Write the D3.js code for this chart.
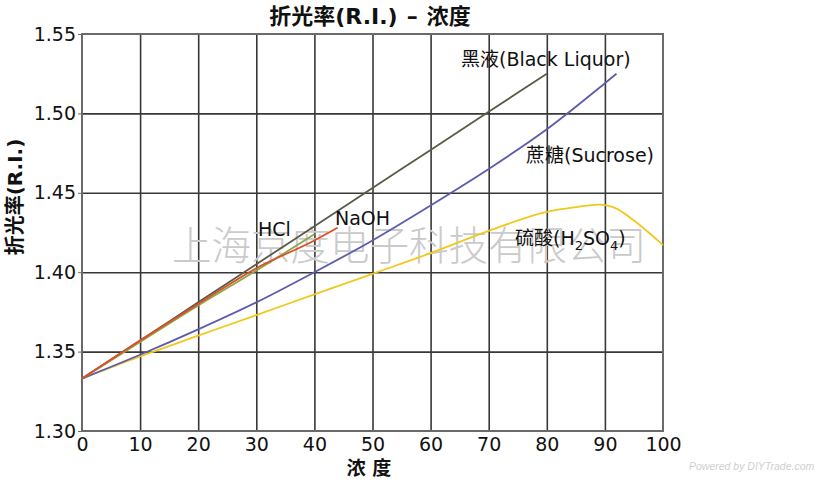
<!DOCTYPE html>
<html>
<head>
<meta charset="utf-8">
<script src="https://cdn.jsdelivr.net/npm/d3@7"></script>
<style>
  body { margin: 0; background: #fff; }
  svg { display: block; }
</style>
</head>
<body>
<div id="chart"></div>
<script>
// datos -------------------------------------------------------
const xTicks = [0, 10, 20, 30, 40, 50, 60, 70, 80, 90, 100];
const yTicks = [1.30, 1.35, 1.40, 1.45, 1.50, 1.55];

const blackLiquor = [[0, 1.333], [10, 1.357], [20, 1.381], [30, 1.405], [40, 1.429], [50, 1.453], [60, 1.477], [70, 1.501], [80, 1.525]];
const sucrose = [[0, 1.333], [10, 1.348], [20, 1.364], [30, 1.381], [40, 1.400], [50, 1.420], [60, 1.442], [70, 1.465], [80, 1.490], [90, 1.519], [92, 1.525]];
const sulfuric = [[0, 1.333], [10, 1.347], [20, 1.360], [30, 1.373], [40, 1.386], [50, 1.399], [60, 1.412], [70, 1.426], [80, 1.438], [85, 1.441], [89, 1.4425], [92, 1.440], [95, 1.4325], [100, 1.417]];
const hcl = [[0, 1.333], [10, 1.356], [20, 1.379], [30, 1.401], [40, 1.424]];
const naoh = [[0, 1.333], [10, 1.357], [20, 1.380], [30, 1.4025], [40, 1.420], [44, 1.428]];

const watermark = "上海京度电子科技有限公司";

// Dimensiones
const W = 819, H = 480;
const mLeft = 82, mRight = 663, mTop = 34, mBottom = 431;

const svg = d3.select("#chart").append("svg")
  .attr("width", W)
  .attr("height", H);

const x = d3.scaleLinear().domain([0, 100]).range([mLeft, mRight]);
const y = d3.scaleLinear().domain([1.30, 1.55]).range([mBottom, mTop]);

// Rejilla
svg.append("g")
  .attr("transform", `translate(0,${mBottom})`)
  .call(d3.axisBottom(x).tickValues(xTicks.slice(1, -1)).tickSize(-(mBottom - mTop)).tickFormat(""))
  .call(g => g.select(".domain").remove())
  .call(g => g.selectAll("line").attr("stroke", "#383838").attr("stroke-width", 1.6));

svg.append("g")
  .attr("transform", `translate(${mLeft},0)`)
  .call(d3.axisLeft(y).tickValues(yTicks.slice(1, -1)).tickSize(-(mRight - mLeft)).tickFormat(""))
  .call(g => g.select(".domain").remove())
  .call(g => g.selectAll("line").attr("stroke", "#383838").attr("stroke-width", 1.6));

// Marca de agua
svg.append("text")
  .attr("x", 172)
  .attr("y", 260)
  .attr("fill", "#cacaca")
  .attr("font-family", "'Noto Sans CJK SC', sans-serif")
  .attr("font-weight", 300)
  .attr("font-size", 39.5)
  .text(watermark);

// Marco
svg.append("rect")
  .attr("x", mLeft).attr("y", mTop)
  .attr("width", mRight - mLeft).attr("height", mBottom - mTop)
  .attr("fill", "none")
  .attr("stroke", "#6a6a6a")
  .attr("stroke-width", 2);

// Ejes
const fontLbl = "'DejaVu Sans', 'Noto Sans CJK SC', sans-serif";

svg.append("g")
  .attr("transform", `translate(${mLeft},0)`)
  .call(d3.axisLeft(y).tickValues(yTicks).tickSize(4).tickPadding(2).tickFormat(d3.format(".2f")))
  .call(g => g.select(".domain").remove())
  .call(g => g.selectAll("line").attr("stroke", "#6a6a6a"))
  .call(g => g.selectAll("text").attr("font-family", fontLbl).attr("font-size", 19).attr("fill", "#111"));

svg.append("g")
  .attr("transform", `translate(0,${mBottom})`)
  .call(d3.axisBottom(x).tickValues(xTicks).tickSize(0).tickPadding(6.5))
  .call(g => g.select(".domain").remove())
  .call(g => g.selectAll("text").attr("font-family", fontLbl).attr("font-size", 19).attr("fill", "#111"));

// Curvas
const line = d3.line()
  .x(d => x(d[0]))
  .y(d => y(d[1]))
  .curve(d3.curveMonotoneX);

const series = [
  { data: sulfuric, color: "#f1c81c" },
  { data: sucrose, color: "#5c5cac" },
  { data: blackLiquor, color: "#5a5a48" },
  { data: hcl, color: "#8ea64a" },
  { data: naoh, color: "#dc4e24" },
];

svg.append("g").selectAll("path")
  .data(series)
  .join("path")
  .attr("d", d => line(d.data))
  .attr("fill", "none")
  .attr("stroke", d => d.color)
  .attr("stroke-width", 1.8);

// Etiquetas de series
const labels = [
  { t: "黑液(Black Liquor)", x: 461, y: 66 },
  { t: "蔗糖(Sucrose)", x: 526, y: 162 },
  { t: "HCl", x: 258, y: 236 },
  { t: "NaOH", x: 335, y: 225 },
];
svg.append("g").selectAll("text")
  .data(labels)
  .join("text")
  .attr("x", d => d.x)
  .attr("y", d => d.y)
  .attr("font-family", fontLbl)
  .attr("font-size", 19)
  .attr("fill", "#111")
  .text(d => d.t);

const h2so4 = svg.append("text")
  .attr("x", 515).attr("y", 245)
  .attr("font-family", fontLbl)
  .attr("font-size", 19)
  .attr("fill", "#111");
h2so4.append("tspan").text("硫酸(H");
h2so4.append("tspan").attr("font-size", 13).attr("dy", 5).text("2");
h2so4.append("tspan").attr("dy", -5).text("SO");
h2so4.append("tspan").attr("font-size", 13).attr("dy", 5).text("4");
h2so4.append("tspan").attr("dy", -5).text(")");

// Titulo
const title = svg.append("text")
  .attr("x", 370).attr("y", 24)
  .attr("text-anchor", "middle")
  .attr("font-family", fontLbl)
  .attr("font-weight", "bold")
  .attr("font-size", 22)
  .attr("fill", "#111");
title.append("tspan").text("折光率(R.I.)");
title.append("tspan").attr("dx", 9).text("–");
title.append("tspan").attr("dx", 9).text("浓度");

// Titulos de ejes
svg.append("text")
  .attr("transform", "translate(15,197) rotate(-90)")
  .attr("text-anchor", "middle")
  .attr("dominant-baseline", "central")
  .attr("font-family", fontLbl)
  .attr("font-weight", "bold")
  .attr("font-size", 20)
  .attr("fill", "#111")
  .text("折光率(R.I.)");

svg.append("text")
  .attr("x", 369).attr("y", 475)
  .attr("text-anchor", "middle")
  .attr("font-family", fontLbl)
  .attr("font-weight", "bold")
  .attr("font-size", 19)
  .attr("fill", "#111")
  .text("浓 度");

svg.append("text")
  .attr("x", 689).attr("y", 470)
  .attr("font-family", "'Liberation Sans', Arial, sans-serif")
  .attr("font-style", "italic")
  .attr("font-size", 10.5)
  .attr("fill", "#cfcfcf")
  .text("Powered by DIYTrade.com");
</script>
</body>
</html>
